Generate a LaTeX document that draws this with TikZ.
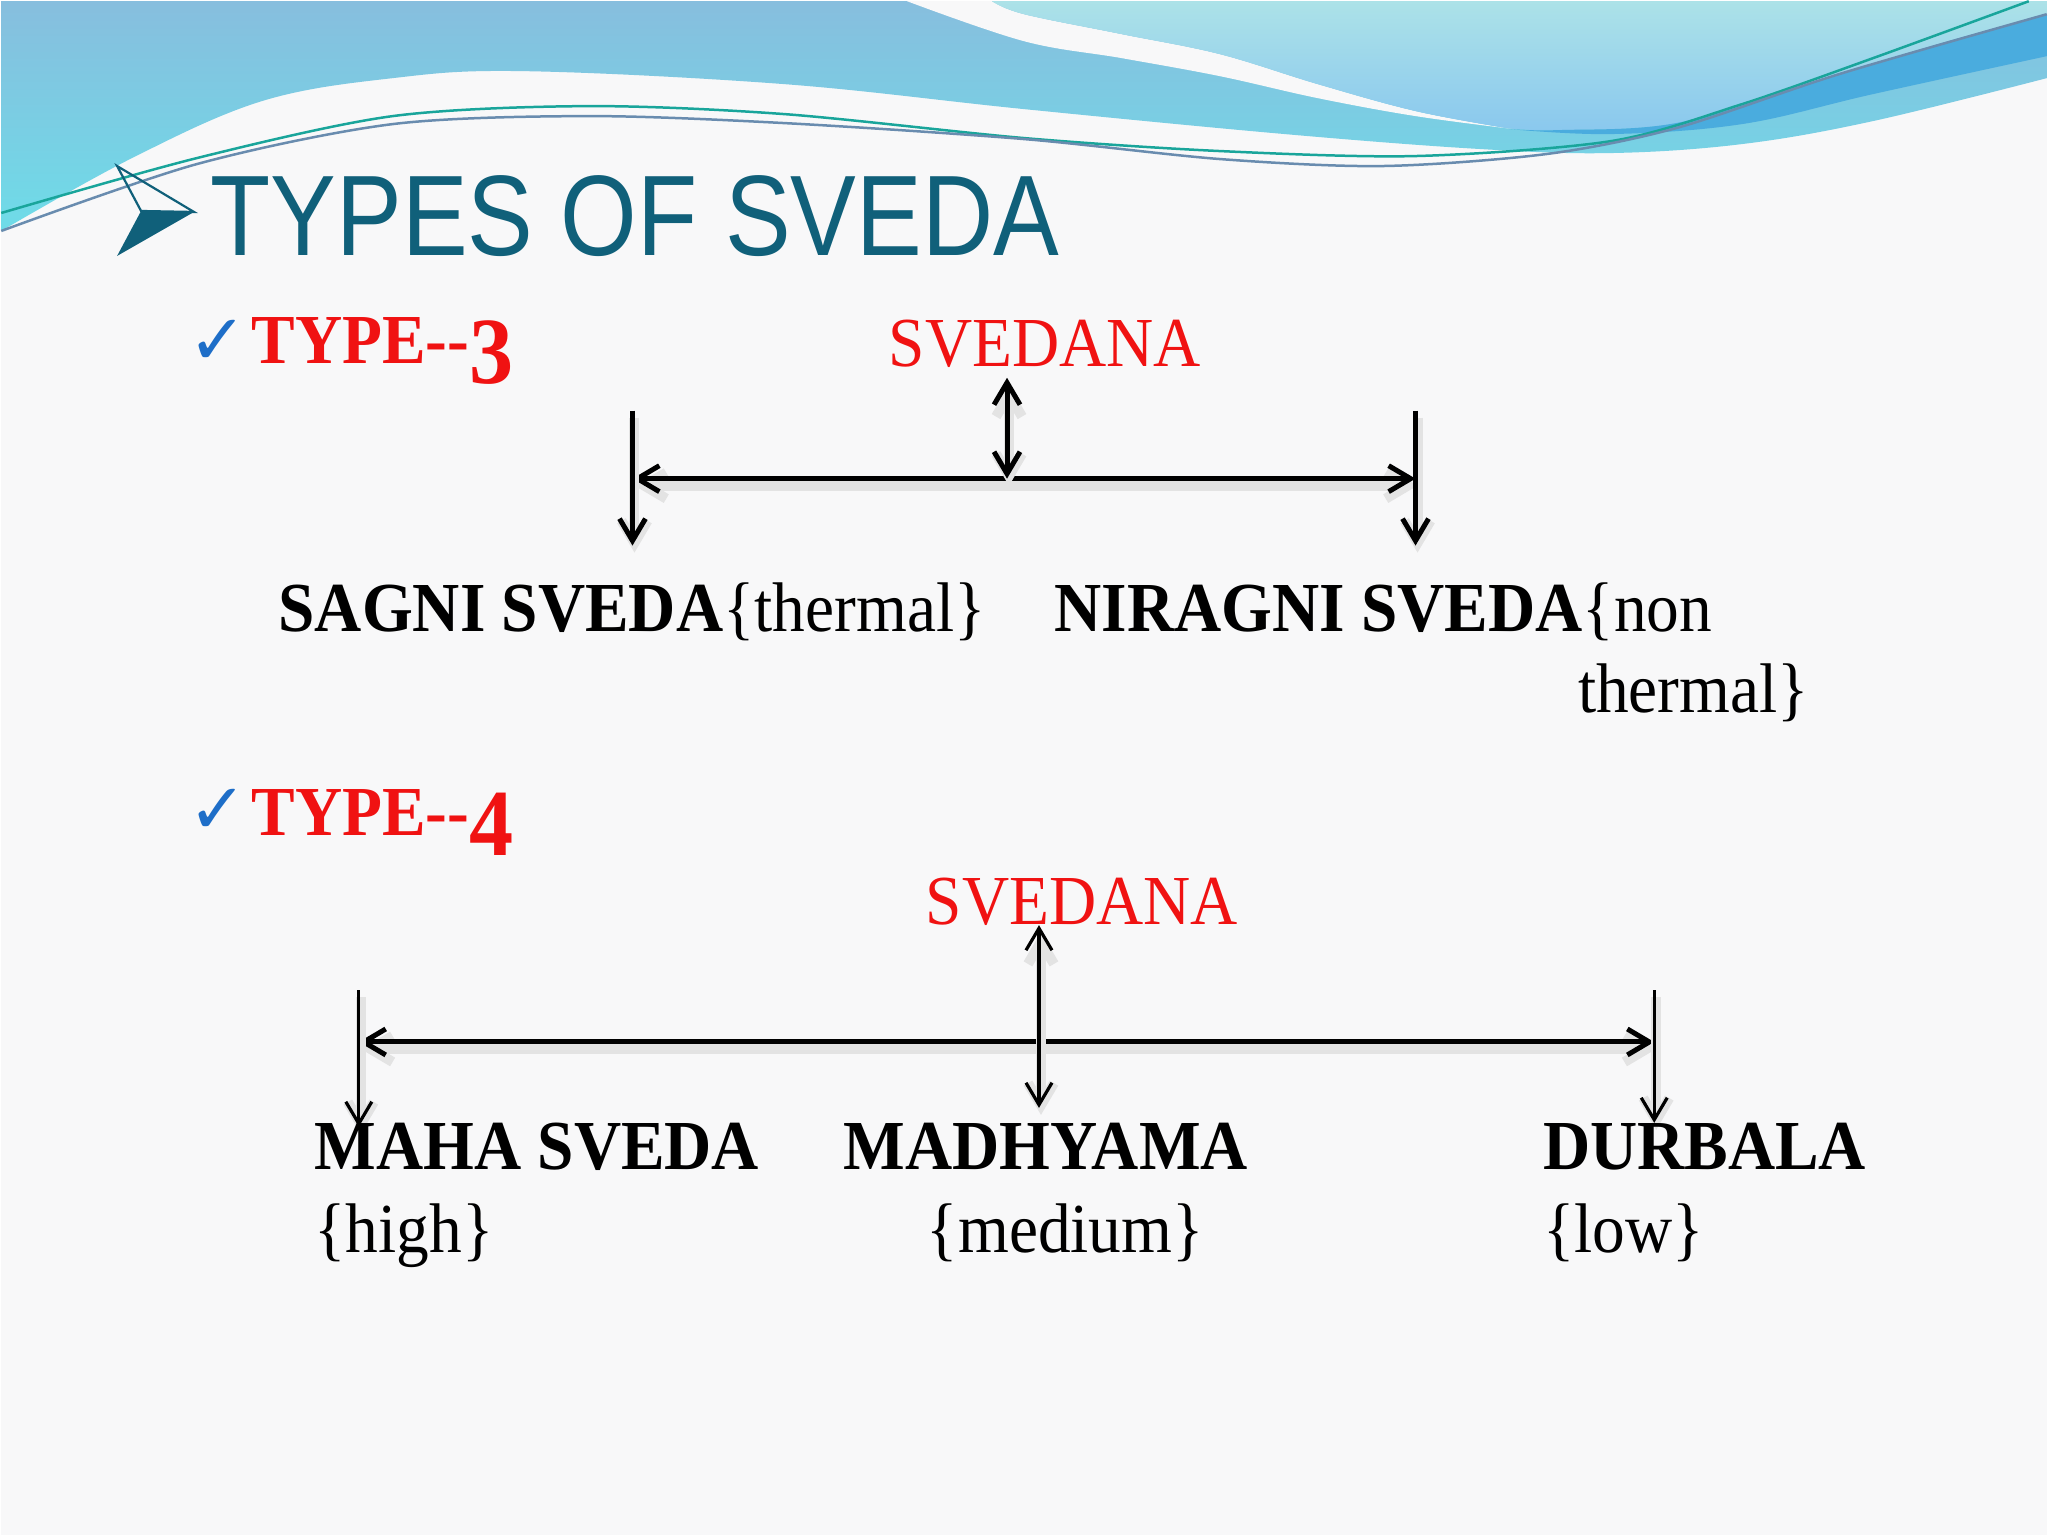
\documentclass[tikz,border=0pt]{standalone}
\usepackage{fontspec}
\setmainfont{Liberation Serif}[FakeStretch=0.93]
\newfontfamily\titlefont{Liberation Sans}[FakeStretch=0.86]
\newfontfamily\tickfont{DejaVu Sans}
\usetikzlibrary{arrows.meta}

\definecolor{titleteal}{RGB}{16,96,122}
\definecolor{typered}{RGB}{240,18,18}
\definecolor{tickblue}{RGB}{30,110,200}
\definecolor{paper}{RGB}{248,248,249}
\definecolor{wavetop}{RGB}{135,190,222}
\definecolor{wavebot}{RGB}{110,220,232}
\definecolor{aquatop}{RGB}{172,226,232}
\definecolor{aquabot}{RGB}{138,200,238}
\definecolor{bandblue}{RGB}{74,172,222}
\definecolor{strandgreen}{RGB}{25,165,155}
\definecolor{strandgrey}{RGB}{105,140,175}

\newcommand\bodysize{\fontsize{20pt}{24pt}\selectfont}
\newcommand\bigdigit[1]{\raisebox{-0.2cm}{\fontsize{27pt}{27pt}\selectfont #1}}

\tikzset{
    >={Straight Barb[length=0.22cm, width=0.26cm]},
    lbl/.style={anchor=base west, inner sep=0pt, font=\bodysize},
    redlbl/.style={lbl, text=typered},
    tick/.style={inner sep=0pt, text=tickblue, font=\tickfont\fontsize{20pt}{20pt}\selectfont},
    shadowed/.style={preaction={draw=black!11, line width=0.1cm,
        transform canvas={shift={(2,7)}}}},
    bar/.style={line width=0.05cm, shadowed},
    thinbar/.style={line width=0.032cm, shadowed}
}

\begin{document}
\begin{tikzpicture}[x=0.01cm, y=-0.01cm]

        \fill[paper] (0,0) rectangle (2048,1536);

        % banner
        \shade[top color=wavetop, bottom color=wavebot]
            (0,0) -- (2048,0) -- plot[smooth, tension=0.6] coordinates {(2048,77) (1874,120) (1743,143) (1612,152) (1481,148) (1285,133) (1024,108) (784,83) (523,70) (392,77) (261,100) (131,157) (0,230)} -- cycle;

        \fill[paper]
            plot[smooth, tension=0.6] coordinates {(907,0) (1024,40) (1122,57) (1220,75) (1318,97) (1416,115) (1514,128)}
            -- plot[smooth, tension=0.6] coordinates {(1507,127) (1416,110) (1318,83) (1220,53) (1122,33) (1024,13) (992,0)} -- cycle;

        \shade[top color=aquatop, bottom color=aquabot]
            (992,0) -- (2048,0) -- plot[smooth, tension=0.6] coordinates {(2048,13) (1939,43) (1808,83) (1677,122) (1560,129) (1507,127)}
            -- plot[smooth, tension=0.6] coordinates {(1507,127) (1416,110) (1318,83) (1220,53) (1122,33) (1024,13) (992,0)} -- cycle;

        \fill[bandblue]
            plot[smooth, tension=0.6] coordinates {(1510,128) (1612,133) (1743,123) (1874,93) (2048,55)}
            -- plot[smooth, tension=0.6] coordinates {(2048,13) (1939,43) (1808,83) (1677,122) (1560,129) (1510,128)} -- cycle;

        \draw[strandgreen, line width=0.025cm]
            plot[smooth] coordinates {(0,212) (196,157) (392,115) (588,105) (784,113) (1024,137) (1220,150) (1416,155) (1612,140) (1743,103) (1874,57) (2030,0)};

        \draw[strandgrey, line width=0.025cm]
            plot[smooth] coordinates {(0,230) (196,163) (392,123) (588,115) (784,122) (1024,138) (1220,158) (1383,165) (1547,153) (1677,127) (1840,73) (2048,13)};

        % title
        \draw[titleteal, line width=0.022cm, line join=miter]
            (116,165) -- (193,211) -- (140,210) -- cycle;
        \fill[titleteal]
            (140,210) -- (193,211) -- (116,255) -- cycle;

        \node[anchor=base west, inner sep=0pt, text=titleteal,
            font=\titlefont\fontsize{32.6pt}{36pt}\selectfont] (title) at (209,255) {TYPES OF SVEDA};

        % type 3
        \node[tick] (tick3) at (217,342) {✓};
        \node[redlbl, font=\bodysize\bfseries] (type3) at (250,363) {TYPE{-}{-}\bigdigit{3}};
        \node[redlbl] (root3) at (888,366) {SVEDANA};

        \coordinate (bar3w) at (632,478);
        \coordinate (bar3e) at (1416,478);
        \coordinate (stem3top) at (1007,377);
        \coordinate (drop3w) at (632,410);
        \coordinate (drop3wtip) at (632,545);
        \coordinate (drop3e) at (1416,410);
        \coordinate (drop3etip) at (1416,545);

        \draw[bar, <->] (bar3w) -- (bar3e);
        \draw[bar, <->] (stem3top) -- (1007,478);
        \draw[bar, ->] (drop3w) -- (drop3wtip);
        \draw[bar, ->] (drop3e) -- (drop3etip);

        \node[lbl] (sagni) at (277,631) {\textbf{SAGNI SVEDA}\{thermal\}};
        \node[lbl] (niragni) at (1054,631) {\textbf{NIRAGNI SVEDA}\{non};
        \node[lbl] (niragnitail) at (1578,712) {thermal\}};

        % type 4
        \node[tick] (tick4) at (217,811) {✓};
        \node[redlbl, font=\bodysize\bfseries] (type4) at (250,835) {TYPE{-}{-}\bigdigit{4}};
        \node[redlbl] (root4) at (925,924) {SVEDANA};

        \coordinate (bar4w) at (358,1042);
        \coordinate (bar4e) at (1655,1042);
        \coordinate (stem4top) at (1039,925);
        \coordinate (stem4foot) at (1039,1108);
        \coordinate (drop4w) at (358,990);
        \coordinate (drop4wtip) at (358,1127);
        \coordinate (drop4e) at (1655,990);
        \coordinate (drop4etip) at (1655,1123);

        \draw[bar, <->] (bar4w) -- (bar4e);
        \draw[thinbar, <->] (stem4top) -- (stem4foot);
        \draw[thinbar, ->] (drop4w) -- (drop4wtip);
        \draw[thinbar, ->] (drop4e) -- (drop4etip);

        \node[lbl, font=\bodysize\bfseries] (maha) at (313,1170) {MAHA SVEDA};
        \node[lbl] (high) at (313,1253) {\{high\}};
        \node[lbl, font=\bodysize\bfseries] (madhya) at (843,1170) {MADHYAMA};
        \node[lbl] (medium) at (926,1253) {\{medium\}};
        \node[lbl, font=\bodysize\bfseries] (durbala) at (1543,1170) {DURBALA};
        \node[lbl] (low) at (1543,1253) {\{low\}};

\end{tikzpicture}
\end{document}
